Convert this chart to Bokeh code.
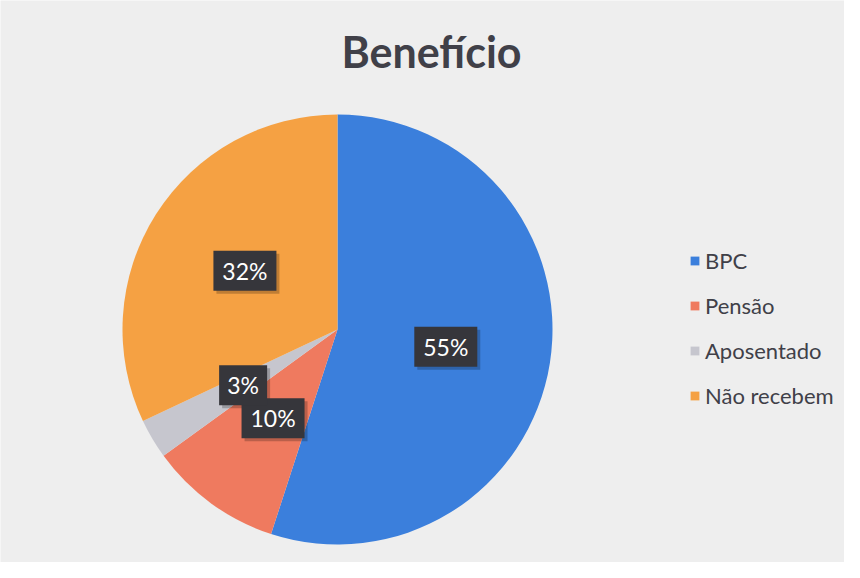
import numpy as np
from bokeh.plotting import figure
from bokeh.models import Range1d, ColumnDataSource, Legend, LegendItem
from bokeh.embed import file_html
from bokeh.resources import INLINE
from bokeh.core.properties import value

# ---- data ----
title_text = "Benefício"
categories = ["BPC", "Pensão", "Aposentado", "Não recebem"]
shares = [55, 10, 3, 32]
labels = ["55%", "10%", "3%", "32%"]
colors = ["#3b7fdc", "#ef7a5f", "#c6c6ce", "#f5a143"]

# ---- figure ----
W, H = 844, 562
p = figure(width=W, height=H, output_backend="svg", toolbar_location=None,
           x_range=Range1d(8, 8 + W), y_range=Range1d(578 - 8 - H, 578 - 8),
           min_border=0)
p.axis.visible = False
p.grid.visible = False
p.outline_line_color = None
p.background_fill_color = "#eeeeee"
p.border_fill_color = "#eeeeee"

cx, cy, R = 345, 241, 215
frac = np.array(shares, dtype=float) / sum(shares)
cum = np.cumsum(frac)
prev = cum - frac
start = np.pi / 2 - 2 * np.pi * prev
end = np.pi / 2 - 2 * np.pi * cum
mid = np.pi / 2 - 2 * np.pi * (prev + frac / 2)

src = ColumnDataSource(dict(cat=categories, start=start, end=end, color=colors))
w = p.wedge(x=cx, y=cy, radius=R, start_angle="start", end_angle="end",
            direction="clock", fill_color="color", line_color=None, source=src)

lr = 0.51 * R
lx = cx + lr * np.cos(mid)
ly = cy + lr * np.sin(mid)
bw = [18 + 15 * len(s) for s in labels]
lsrc = ColumnDataSource(dict(x=lx, y=ly, xs=lx + 3, ys=ly - 3, t=labels, bw=bw))
p.rect(x="xs", y="ys", width="bw", height=40, width_units="screen", height_units="screen",
       fill_color="black", fill_alpha=0.22, line_color=None, source=lsrc)
p.rect(x="x", y="y", width="bw", height=40, width_units="screen", height_units="screen",
       fill_color="#36363b", line_color=None, source=lsrc)
p.text(x="x", y="y", text="t", text_align="center", text_baseline="middle",
       text_color="white", text_font=value("Lato"), text_font_size="23px", source=lsrc)

# title
p.text(x=[439], y=[578 - 59], text=[title_text], text_align="center", text_baseline="middle",
       text_color="#404048", text_font=value("Lato"), text_font_style="bold",
       text_font_size="43px")

legend = Legend(items=[LegendItem(label=c, renderers=[w], index=i) for i, c in enumerate(categories)],
                location=(689, 153), orientation="vertical",
                label_text_font="Lato", label_text_font_size="22px",
                label_text_color="#404048", label_height=25, glyph_height=11, glyph_width=11,
                label_standoff=5, spacing=18, padding=0, margin=0,
                border_line_color=None, background_fill_alpha=0)
p.add_layout(legend, "center")

open("out.html", "w").write(file_html(p, INLINE))
